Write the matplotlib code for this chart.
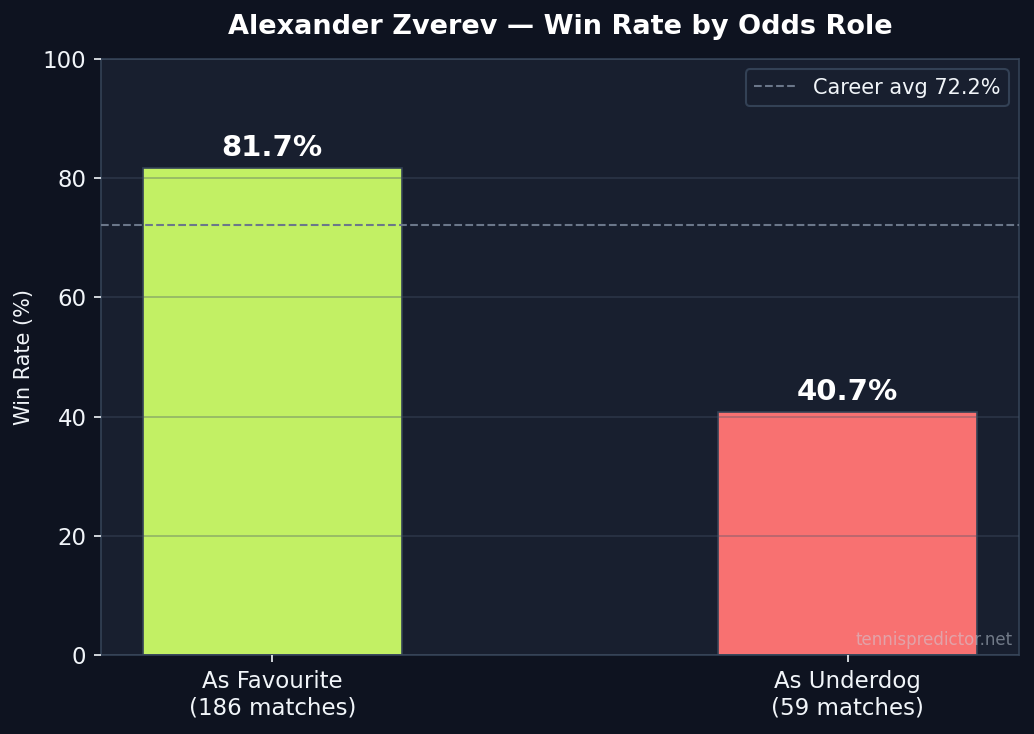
import matplotlib.pyplot as plt

# data
categories = ['As Favourite\n(186 matches)', 'As Underdog\n(59 matches)']
win_rates = [81.7, 40.7]
bar_colors = ['#c2f064', '#f87171']
career_avg = 72.2

fig_bg = '#0e1320'
ax_bg = '#181f2f'
text_col = '#f1f5f9'

fig = plt.figure(figsize=(10.34 / 1.5, 7.34 / 1.5), dpi=150, facecolor=fig_bg)
ax = fig.add_axes([0.0977, 0.1076, 0.8878, 0.812])
ax.set_facecolor(ax_bg)

x = range(len(categories))
bars = ax.bar(x, win_rates, width=0.45, color=bar_colors,
              edgecolor='#334155', linewidth=0.8, zorder=2)

# value labels
for b, v in zip(bars, win_rates):
    ax.text(b.get_x() + b.get_width() / 2, v + 1.0, f'{v}%',
            ha='center', va='bottom', fontsize=14, fontweight='bold',
            color='white')

ax.axhline(career_avg, color='#6b778a', linestyle='--', linewidth=1,
           label=f'Career avg {career_avg}%', zorder=3)

ax.set_ylim(0, 100)
ax.set_xticks(list(x))
ax.set_xticklabels(categories, fontsize=11, color=text_col)
ax.tick_params(axis='y', labelsize=11, colors=text_col)
ax.tick_params(axis='x', colors=text_col)
ax.set_ylabel('Win Rate (%)', fontsize=10, color=text_col, labelpad=4)
ax.set_title('Alexander Zverev — Win Rate by Odds Role', fontsize=13,
             fontweight='bold', color='white', pad=12)

ax.yaxis.grid(True, color='#475569', alpha=0.35, linewidth=0.9, zorder=2.5)
ax.set_axisbelow(False)
for s in ax.spines.values():
    s.set_color('#334155')

leg = ax.legend(loc='upper right', fontsize=10, facecolor=ax_bg,
                edgecolor='#334155', labelcolor=text_col, framealpha=1)

ax.text(0.993, 0.01, 'tennispredictor.net', transform=ax.transAxes,
        ha='right', va='bottom', fontsize=8, color='#cbd5e1', alpha=0.5)

fig.savefig('out.png', dpi=150, facecolor=fig_bg)
